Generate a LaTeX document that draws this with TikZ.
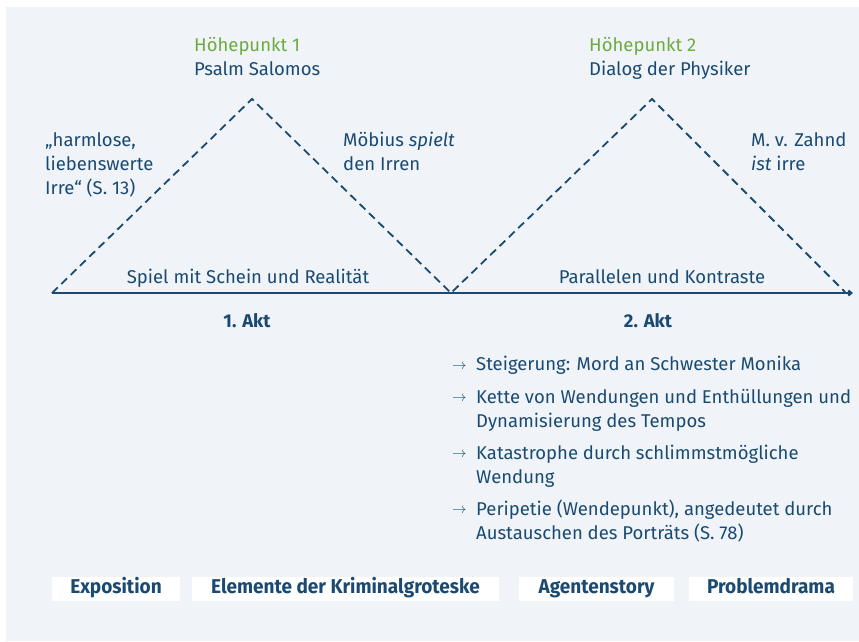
\documentclass[tikz,border=0pt]{standalone}
\usepackage{fontspec}
\setmainfont{Fira Sans}
\newfontfamily\condfont[FakeStretch=0.95]{Fira Sans}
\usepackage{xcolor}
\usepackage{tikz}
\usetikzlibrary{arrows.meta, positioning}
\definecolor{panelbg}{HTML}{F0F4F8}
\definecolor{darkblue}{HTML}{1A4A72}
\definecolor{hpgreen}{HTML}{6DAB3F}

\begin{document}
\begin{tikzpicture}[
    x=1pt, y=-1pt,
    txt/.style={inner sep=0pt, anchor=base west, align=left, text=darkblue, font=\fontsize{18.5}{24}\selectfont},
    peak/.style={txt, text=hpgreen},
    akt/.style={inner sep=0pt, anchor=base, text=darkblue, font=\fontsize{18.5}{24}\selectfont\bfseries},
    phase/.style={fill=white, text=darkblue, minimum height=24pt, inner sep=0pt, text height=13.5pt, text depth=4.5pt, font=\condfont\fontsize{20}{20}\selectfont\bfseries},
    pointer/.style={inner sep=0pt, anchor=base west, text=darkblue, font=\fontsize{14}{14}\selectfont},
    dashline/.style={draw=darkblue, line width=1.8pt, dash pattern=on 8pt off 5pt, line join=miter},
    axisline/.style={draw=darkblue, line width=2.2pt, -{Straight Barb[length=3pt, width=5pt]}}
]

% Background
\useasboundingbox (0,0) rectangle (859,641);
\fill[panelbg] (6,7) rectangle (859,641);

% Curve points
\coordinate (foot0) at (52,293);
\coordinate (top1) at (252,99);
\coordinate (foot1) at (451,293);
\coordinate (top2) at (652,99);
\coordinate (foot2) at (845,292);
\coordinate (axisend) at (853,293);

% Draw curve and axis
\draw[axisline] (foot0) -- (axisend);
\draw[dashline] (foot0) -- (top1) -- (foot1) -- (top2) -- (foot2);

% Nodes (multi-line texts sit on their last baseline)
\node[peak] (hp1) at (194,51.5) {Höhepunkt 1};
\node[txt] (psalm) at (194,75) {Psalm Salomos};
\node[peak] (hp2) at (589,51.5) {Höhepunkt 2};
\node[txt] (dialog) at (589,75) {Dialog der Physiker};

\node[txt] (irre) at (45,194.3) {„harmlose,\\liebenswerte\\Irre“ (S. 13)};
\node[txt] (moebius) at (343,170.7) {Möbius \textit{spielt}\\den Irren};
\node[txt] (zahnd) at (751,170.7) {M. v. Zahnd\\\textit{ist} irre};

\node[txt, anchor=base] (spiel) at (248,283.3) {Spiel mit Schein und Realität};
\node[txt, anchor=base] (parallel) at (662,283.3) {Parallelen und Kontraste};

\node[akt] (akt1) at (247,327) {1. Akt};
\node[akt] (akt2) at (648,327) {2. Akt};

% Events of the second act
\foreach \yy/\ylast/\txt [count=\i] in {
    370.7/370.7/{Steigerung: Mord an Schwester Monika},
    403/427/{Kette von Wendungen und Enthüllungen und\\Dynamisierung des Tempos},
    459/483/{Katastrophe durch schlimmstmögliche\\Wendung},
    515/539/{Peripetie (Wendepunkt), angedeutet durch\\Austauschen des Porträts (S. 78)}}
{
    \node[pointer] (arrow\i) at (452,\yy) {\raisebox{1.5pt}{$\rightarrow$}};
    \node[txt] (event\i) at (476,\ylast) {\txt};
}

% Phases
\node[phase, minimum width=128pt] (expo) at (116,589) {Exposition};
\node[phase, minimum width=307pt] (krimi) at (345.5,589) {Elemente der Kriminalgroteske};
\node[phase, minimum width=155pt] (agent) at (596.5,589) {Agentenstory};
\node[phase, minimum width=164pt] (problem) at (771,589) {Problemdrama};

\end{tikzpicture}
\end{document}
